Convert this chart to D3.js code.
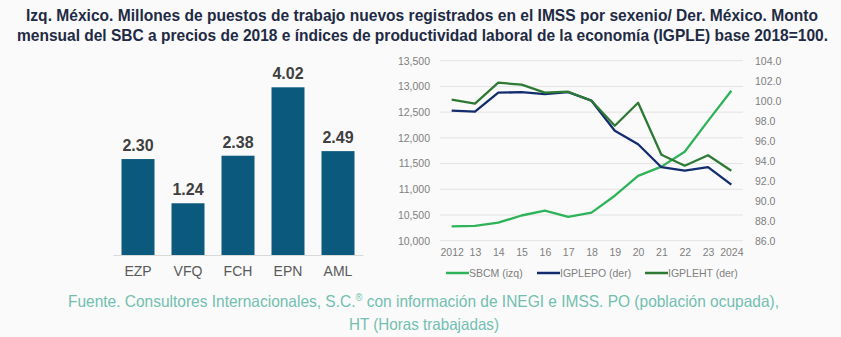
<!DOCTYPE html>
<html>
<head>
<meta charset="utf-8">
<script src="https://cdn.jsdelivr.net/npm/d3@7"></script>
<style>
  body { margin: 0; background: #fafafa; }
  svg { display: block; }
  .narrow { font-family: "Liberation Sans Narrow", "Arial Narrow", "Liberation Sans", sans-serif; white-space: pre; }
  .tick text { font-family: "Liberation Sans", Arial, sans-serif; }
</style>
</head>
<body>
<svg id="chart" width="841" height="337"></svg>
<script>
// bar chart: millones de puestos por sexenio
var sexenios = ['EZP', 'VFQ', 'FCH', 'EPN', 'AML'];
var puestos = [2.30, 1.24, 2.38, 4.02, 2.49];

// line chart
var years = ['2012', '13', '14', '15', '16', '17', '18', '19', '20', '21', '22', '23', '2024'];
var sbcm = [10280, 10290, 10350, 10490, 10585, 10465, 10545, 10875, 11260, 11440, 11730, 12330, 12915];
var igplepo = [99.0, 98.9, 100.8, 100.85, 100.65, 100.85, 100.0, 97.0, 95.65, 93.35, 93.0, 93.35, 91.6];
var igpleht = [100.1, 99.7, 101.8, 101.6, 100.8, 100.9, 100.0, 97.5, 99.8, 94.6, 93.5, 94.55, 93.0];
var leftTicks = [10000, 10500, 11000, 11500, 12000, 12500, 13000, 13500];
var rightTicks = [86, 88, 90, 92, 94, 96, 98, 100, 102, 104];

var svg = d3.select('#chart');

// title
var title = svg.append('g').attr('class', 'narrow')
    .attr('font-weight', 'bold').attr('font-size', 17).attr('fill', '#1f2a44');
title.append('text').attr('x', 26).attr('y', 21)
    .attr('textLength', 792).attr('lengthAdjust', 'spacingAndGlyphs')
    .text('Izq. México.  Millones de puestos de trabajo nuevos registrados en el IMSS por sexenio/ Der. México. Monto');
title.append('text').attr('x', 17).attr('y', 41)
    .attr('textLength', 811).attr('lengthAdjust', 'spacingAndGlyphs')
    .text('mensual del SBC a precios de 2018 e índices de productividad laboral de la economía (IGPLE) base 2018=100.');

// ---- bars ----
var barBase = 255;
var xBar = d3.scaleBand().domain(sexenios).range([113, 363]).paddingInner(0.34).paddingOuter(0.17);
var yBar = d3.scaleLinear().domain([0, 4.02]).range([barBase, 87.3]);

svg.append('g').selectAll('rect').data(sexenios).join('rect')
    .attr('x', function(d){ return xBar(d); })
    .attr('width', xBar.bandwidth())
    .attr('y', function(d, i){ return yBar(puestos[i]); })
    .attr('height', function(d, i){ return barBase - yBar(puestos[i]); })
    .attr('fill', '#0b5a7d');

svg.append('g').selectAll('text').data(sexenios).join('text')
    .attr('x', function(d){ return xBar(d) + xBar.bandwidth() / 2; })
    .attr('y', function(d, i){ return yBar(puestos[i]) - 8; })
    .attr('text-anchor', 'middle')
    .attr('font-family', 'Liberation Sans, Arial, sans-serif')
    .attr('font-weight', 'bold').attr('font-size', 16).attr('fill', '#404040')
    .text(function(d, i){ return puestos[i].toFixed(2); });

var xBarAxis = svg.append('g').attr('transform', 'translate(0,' + barBase + ')')
    .call(d3.axisBottom(xBar).tickSize(0).tickPadding(11));
xBarAxis.select('.domain').attr('stroke', '#d9d9d9').attr('stroke-width', 1.2);
xBarAxis.selectAll('text').attr('font-size', 14).attr('fill', '#595959');

// ---- lines ----
var plotTop = 60.7, plotBottom = 240.7;
var x = d3.scalePoint().domain(years).range([440, 743]).padding(0.5);
var yL = d3.scaleLinear().domain([10000, 13500]).range([plotBottom, plotTop]);
var yR = d3.scaleLinear().domain([86, 104]).range([plotBottom, plotTop]);

svg.append('g').selectAll('line').data(leftTicks).join('line')
    .attr('x1', 440).attr('x2', 743)
    .attr('y1', function(d){ return yL(d); }).attr('y2', function(d){ return yL(d); })
    .attr('stroke', '#e3e3e3').attr('stroke-width', 1);

var axL = svg.append('g').attr('transform', 'translate(440,0)')
    .call(d3.axisLeft(yL).tickValues(leftTicks).tickSize(0).tickPadding(10).tickFormat(d3.format(',')));
var axR = svg.append('g').attr('transform', 'translate(743,0)')
    .call(d3.axisRight(yR).tickValues(rightTicks).tickSize(0).tickPadding(12).tickFormat(d3.format('.1f')));
var axX = svg.append('g').attr('transform', 'translate(0,' + plotBottom + ')')
    .call(d3.axisBottom(x).tickSize(0).tickPadding(8));
[axL, axR, axX].forEach(function(a){
    a.select('.domain').remove();
    a.selectAll('text').attr('font-size', 10.5).attr('fill', '#7f7f7f');
});

var series = [
    { name: 'SBCM (izq)', values: sbcm, scale: yL, color: '#2fb35a' },
    { name: 'IGPLEPO (der)', values: igplepo, scale: yR, color: '#122c6e' },
    { name: 'IGPLEHT (der)', values: igpleht, scale: yR, color: '#2e7a35' }
];

series.forEach(function(s){
    var line = d3.line()
        .x(function(d, i){ return x(years[i]); })
        .y(function(d){ return s.scale(d); });
    svg.append('path').datum(s.values)
        .attr('d', line).attr('fill', 'none')
        .attr('stroke', s.color).attr('stroke-width', 2.3)
        .attr('stroke-linejoin', 'round');
});

// legend
var legX = [446, 537, 645];
var leg = svg.append('g').selectAll('g').data(series).join('g')
    .attr('transform', function(d, i){ return 'translate(' + legX[i] + ',273)'; });
leg.append('line').attr('x1', 0).attr('x2', 23)
    .attr('stroke', function(d){ return d.color; }).attr('stroke-width', 2.5);
leg.append('text').attr('x', 23).attr('y', 3.5)
    .attr('font-family', 'Liberation Sans, Arial, sans-serif')
    .attr('font-size', 10.5).attr('fill', '#7f7f7f')
    .text(function(d){ return d.name; });

// footer
var foot = svg.append('g').attr('class', 'narrow')
    .attr('font-size', 16.5).attr('fill', '#72bfb0');
var f1 = foot.append('text').attr('x', 68).attr('y', 307)
    .attr('textLength', 711).attr('lengthAdjust', 'spacingAndGlyphs');
f1.append('tspan').text('Fuente. Consultores Internacionales, S.C.');
f1.append('tspan').attr('font-size', 10).attr('dy', -6).text('®');
f1.append('tspan').attr('dy', 6).text(' con información de INEGI e IMSS. PO (población ocupada),');
foot.append('text').attr('x', 349).attr('y', 330)
    .attr('textLength', 150).attr('lengthAdjust', 'spacingAndGlyphs')
    .text('HT (Horas trabajadas)');
</script>
</body>
</html>
